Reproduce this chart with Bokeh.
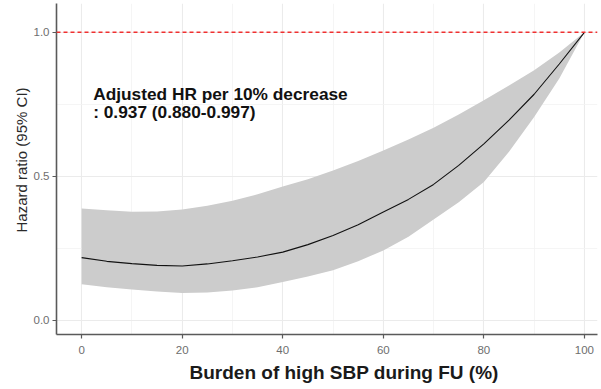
from bokeh.plotting import figure
from bokeh.models import Range1d, Label, Span, FixedTicker, Title
from bokeh.embed import file_html
from bokeh.resources import INLINE

# Data
burden = [0, 5, 10, 15, 20, 25, 30, 35, 40, 45, 50, 55, 60, 65, 70, 75, 80, 85, 90, 95, 100]
hr_fit = [0.218, 0.205, 0.197, 0.191, 0.189, 0.196, 0.207, 0.220, 0.237, 0.263, 0.295,
          0.332, 0.376, 0.420, 0.472, 0.538, 0.613, 0.695, 0.785, 0.890, 1.0]
hr_lower = [0.125, 0.115, 0.107, 0.100, 0.095, 0.097, 0.104, 0.115, 0.133, 0.152, 0.174,
            0.205, 0.243, 0.290, 0.350, 0.410, 0.480, 0.585, 0.706, 0.840, 1.0]
hr_upper = [0.388, 0.382, 0.377, 0.378, 0.385, 0.398, 0.415, 0.438, 0.465, 0.490, 0.520,
            0.553, 0.590, 0.628, 0.669, 0.715, 0.764, 0.815, 0.868, 0.930, 1.0]
x_ticks = [0, 20, 40, 60, 80, 100]
x_minor = [10, 30, 50, 70, 90]
y_ticks = [0.0, 0.5, 1.0]
y_minor = [0.25, 0.75]
y_tick_labels = {0: "0.0", 0.5: "0.5", 1: "1.0"}
ref_hr = 1.0
annot_lines = ["Adjusted HR per 10% decrease", ": 0.937 (0.880-0.997)"]
x_title = "Burden of high SBP during FU (%)"
y_title = "Hazard ratio (95% CI)"

FONT = "Liberation Sans"

p = figure(width=601, height=389, output_backend="svg", toolbar_location=None,
           x_range=Range1d(-5, 102.6), y_range=Range1d(-0.049, 1.10),
           min_border_left=56, min_border_right=4, min_border_top=3, min_border_bottom=55)
p.outline_line_color = None
p.background_fill_color = "white"
p.border_fill_color = "white"

p.varea(x=burden, y1=hr_lower, y2=hr_upper, fill_color="#cccccc", fill_alpha=1.0)
p.line(x=burden, y=hr_fit, line_color="#111111", line_width=1.1)
p.add_layout(Span(location=ref_hr, dimension="width", line_color="#f03030",
                  line_dash="4 3", line_width=1.6))

p.xaxis.ticker = FixedTicker(ticks=x_ticks, minor_ticks=x_minor)
p.yaxis.ticker = FixedTicker(ticks=y_ticks, minor_ticks=y_minor)
p.yaxis.major_label_overrides = y_tick_labels

for ax in (p.xaxis[0], p.yaxis[0]):
    ax.axis_line_color = "#5a5a5a"
    ax.axis_line_width = 1.6
    ax.major_tick_line_color = "#5a5a5a"
    ax.major_tick_line_width = 1.2
    ax.major_tick_in = 0
    ax.major_tick_out = 4
    ax.minor_tick_line_color = None
    ax.major_label_text_font = FONT
    ax.major_label_text_font_size = "11.5px"
    ax.major_label_text_color = "#6e6e6e"

p.xaxis.major_label_standoff = 7
p.yaxis.major_label_standoff = 3

p.xgrid.grid_line_color = "#ebebeb"
p.ygrid.grid_line_color = "#ebebeb"
p.xgrid.grid_line_width = 1.1
p.ygrid.grid_line_width = 1.1
p.xgrid.minor_grid_line_color = "#f2f2f2"
p.ygrid.minor_grid_line_color = "#f2f2f2"
p.xgrid.minor_grid_line_width = 0.8
p.ygrid.minor_grid_line_width = 0.8

# axis titles as side titles so they can be offset like the reference
p.add_layout(Title(text=x_title, text_font=FONT, text_font_size="19px",
                   text_font_style="bold", text_color="#1a1a1a",
                   align="left", offset=133, standoff=6), "below")
p.add_layout(Title(text=y_title, text_font=FONT, text_font_size="15px",
                   text_font_style="normal", text_color="#2a2a2a",
                   align="left", offset=102, standoff=2), "left")

for txt, yv in zip(annot_lines, [0.785, 0.723]):
    p.add_layout(Label(x=2.3, y=yv, text=txt, text_font=FONT, text_font_size="17.3px",
                       text_font_style="bold", text_color="#111111",
                       text_baseline="alphabetic", text_align="left"))

open("out.html", "w").write(file_html(p, INLINE))
